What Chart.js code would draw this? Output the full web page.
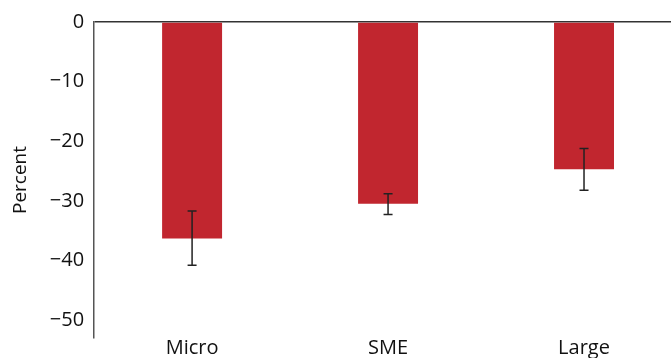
<!DOCTYPE html>
<html><head><meta charset="utf-8">
<script src="https://cdn.jsdelivr.net/npm/chart.js@4/dist/chart.umd.min.js"></script>
<style>
html,body{margin:0;padding:0;background:#fff;overflow:hidden;width:671px;height:360px}
#wrap{position:relative;width:690px;height:360px}
</style></head>
<body><div id="wrap"><canvas id="c"></canvas></div>
<script>
const categories = ['Micro', 'SME', 'Large'];
const values = [-36.3, -30.5, -24.7];
const errHigh = [-31.7, -28.8, -21.2];
const errLow = [-40.8, -32.3, -28.2];
const yTicks = [0, -10, -20, -30, -40, -50];

const FONT = '"Open Sans", "DejaVu Sans", sans-serif';

const errorBars = {
  id: 'errorBars',
  afterDatasetsDraw(chart) {
    const ctx = chart.ctx, meta = chart.getDatasetMeta(0), y = chart.scales.y;
    ctx.save();
    ctx.strokeStyle = '#222';
    ctx.lineWidth = 1.5;
    meta.data.forEach((bar, i) => {
      const x = bar.x, y1 = y.getPixelForValue(errHigh[i]), y2 = y.getPixelForValue(errLow[i]);
      ctx.beginPath();
      ctx.moveTo(x, y1); ctx.lineTo(x, y2);
      ctx.moveTo(x - 4.5, y1); ctx.lineTo(x + 4.5, y1);
      ctx.moveTo(x - 4.5, y2); ctx.lineTo(x + 4.5, y2);
      ctx.stroke();
    });
    ctx.restore();
  }
};

new Chart(document.getElementById('c'), {
  type: 'bar',
  data: {
    labels: categories,
    datasets: [{
      data: values,
      backgroundColor: '#C1262F',
      borderWidth: 0,
      categoryPercentage: 1,
      barPercentage: 0.306
    }]
  },
  options: {
    responsive: true,
    maintainAspectRatio: false,
    animation: false,
    layout: { padding: { top: 8, right: 8, bottom: 0, left: 5 } },
    plugins: { legend: { display: false }, tooltip: { enabled: false } },
    scales: {
      x: {
        grid: { display: false, drawTicks: false },
        border: { display: false },
        ticks: { color: '#111', font: { family: FONT, size: 20 }, padding: -2 }
      },
      y: {
        min: -53, max: 0,
        afterBuildTicks(scale) { scale.ticks = yTicks.map(v => ({ value: v })); },
        grid: {
          drawTicks: false,
          color: c => (c.tick && c.tick.value === 0) ? '#333' : 'rgba(0,0,0,0)',
          lineWidth: 1.5
        },
        border: { display: true, color: '#555', width: 1.5 },
        ticks: {
          color: '#111', padding: 10,
          font: { family: FONT, size: 20 },
          callback: v => v === 0 ? '0' : '\u2212' + Math.abs(v)
        },
        title: { display: true, text: 'Percent', color: '#111', font: { family: FONT, size: 19 }, padding: { bottom: 8 } }
      }
    }
  },
  plugins: [errorBars]
});
</script></body></html>
